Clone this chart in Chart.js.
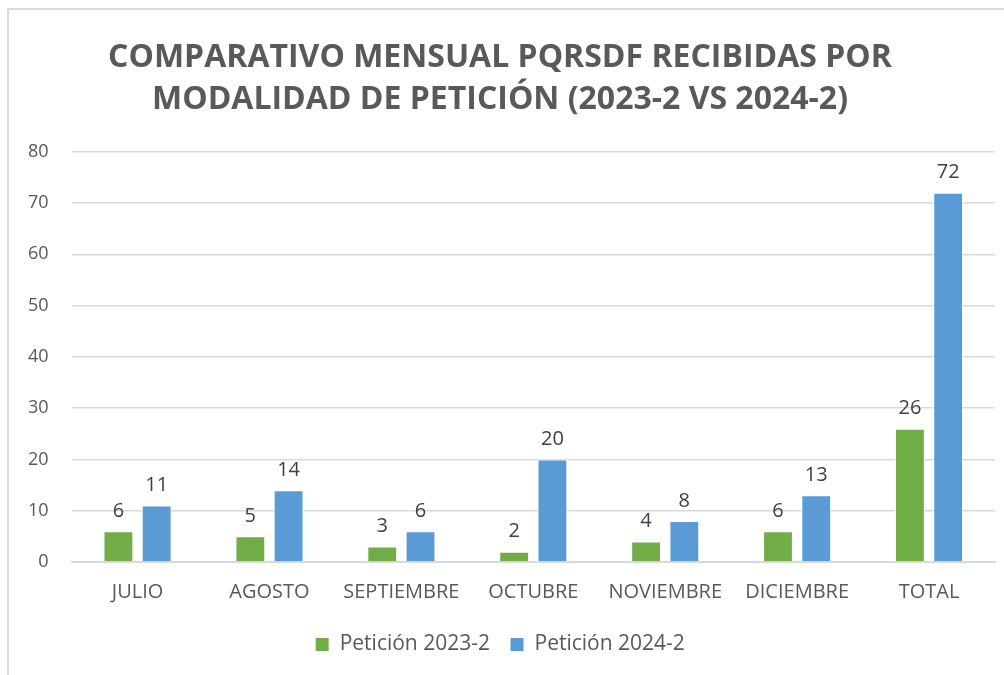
<!DOCTYPE html>
<html>
<head>
<meta charset="utf-8">
<script src="https://cdn.jsdelivr.net/npm/chart.js@4"></script>
<style>
  html, body { margin: 0; padding: 0; background: #fff; overflow: hidden; }
  #frame { position: absolute; left: 7px; top: 8px; width: 1010px; height: 680px;
           border-left: 2px solid #d9d9d9; border-top: 2px solid #d9d9d9; }
  #wrap { position: absolute; left: -9px; top: -10px; width: 1004px; height: 675px; }
</style>
</head>
<body>
<div id="frame"><div id="wrap"><canvas id="G1"></canvas></div></div>
<script>
const meses = ['JULIO', 'AGOSTO', 'SEPTIEMBRE', 'OCTUBRE', 'NOVIEMBRE', 'DICIEMBRE', 'TOTAL'];
const peticion2023 = [6, 5, 3, 2, 4, 6, 26];
const peticion2024 = [11, 14, 6, 20, 8, 13, 72];
const tituloLineas = ['COMPARATIVO MENSUAL PQRSDF RECIBIDAS POR', 'MODALIDAD DE PETICIÓN (2023-2 VS 2024-2)'];

const gris = '#595959';
const fuente = "'Open Sans', 'DejaVu Sans', sans-serif";

// etiquetas de valor encima de cada barra
const etiquetas = {
    id: 'etiquetas',
    afterDatasetsDraw(chart) {
        const ctx = chart.ctx;
        ctx.save();
        ctx.font = '20px ' + fuente;
        ctx.fillStyle = '#404040';
        ctx.textAlign = 'center';
        ctx.textBaseline = 'bottom';
        chart.data.datasets.forEach((ds, i) => {
            chart.getDatasetMeta(i).data.forEach((bar, j) => {
                ctx.fillText(ds.data[j], bar.x, bar.y - 10);
            });
        });
        ctx.restore();
    }
};

new Chart(document.getElementById("G1"), {
    type: 'bar',
    data: {
        labels: meses,
        datasets: [
            {
                label: 'Petición 2023-2',
                backgroundColor: '#70ad47',
                borderColor: '#ffffff',
                borderWidth: 1,
                data: peticion2023
            },
            {
                label: 'Petición 2024-2',
                backgroundColor: '#5b9bd5',
                borderColor: '#ffffff',
                borderWidth: 1,
                data: peticion2024
            }
        ]
    },
    options: {
        responsive: true,
        maintainAspectRatio: false,
        animation: false,
        layout: { padding: { left: 5, right: 9, top: 36, bottom: 10 } },
        datasets: { bar: { categoryPercentage: 0.58, barPercentage: 0.78 } },
        scales: {
            x: {
                grid: { display: false },
                border: { color: '#d9d9d9', width: 2 },
                ticks: { color: gris, font: { size: 20, family: fuente }, padding: 10 }
            },
            y: {
                min: 0, max: 80,
                ticks: { stepSize: 10, color: gris, font: { size: 18, family: fuente }, padding: 23 },
                grid: { color: '#d9d9d9', lineWidth: 1.5, drawTicks: false },
                border: { display: false }
            }
        },
        plugins: {
            title: {
                display: true,
                text: tituloLineas,
                color: gris,
                font: { size: 32, weight: 'bold', family: fuente, lineHeight: 1.34 },
                padding: { top: 0, bottom: 30 }
            },
            legend: {
                position: 'bottom',
                labels: { color: gris, font: { size: 21, family: fuente }, boxWidth: 14, boxHeight: 14, padding: 20 }
            },
            tooltip: { enabled: false }
        }
    },
    plugins: [etiquetas]
});
</script>
</body>
</html>
